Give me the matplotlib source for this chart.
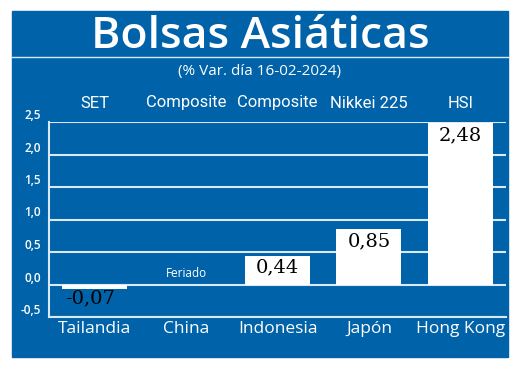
import matplotlib.pyplot as plt
import numpy as np
from matplotlib.patches import Rectangle
from matplotlib.lines import Line2D
import matplotlib.transforms as mtransforms

paises = ['Tailandia', 'China', 'Indonesia', 'Japón', 'Hong Kong']
indices = ['SET', 'Composite', 'Composite', 'Nikkei 225', 'HSI']
variacion = [-0.07, np.nan, 0.44, 0.85, 2.48]
yticks = [-0.5, 0.0, 0.5, 1.0, 1.5, 2.0, 2.5]

blue = '#0062a9'
grid_c = '#d8e9f7'
sans = ['Open Sans', 'DejaVu Sans']
narrow = ['Roboto', 'Open Sans', 'DejaVu Sans']

fig = plt.figure(figsize=(5.2, 3.83), dpi=100)
fig.patch.set_facecolor('white')

# blue panel
fig.patches.append(Rectangle((12/520, 1-357/383), 496/520, 346/383,
                             transform=fig.transFigure, color=blue, zorder=-10))
fig.lines.append(Line2D([12/520, 508/520], [1-57/383, 1-57/383],
                        transform=fig.transFigure, color=grid_c, lw=1))

fig.text(0.5, 1-37/383, 'Bolsas Asiáticas', color='white', fontsize=32,
         ha='center', va='center', family=sans, weight='semibold')
fig.text(0.5, 1-72/383, '(% Var. día 16-02-2024)', color='white', fontsize=11,
         ha='center', va='center', family=sans)

ax = fig.add_axes([49/520, 1-317/383, 457/520, 195/383])
ax.set_facecolor('none')
x = np.arange(len(paises))
vals = np.array(variacion)
ax.bar(x, np.nan_to_num(vals), width=0.71, color='white', zorder=3)

ax.set_xlim(-0.5, 4.5)
ax.set_ylim(-0.5, 2.5)
ax.set_yticks(yticks)
ax.set_yticklabels([f'{v:.1f}'.replace('.', ',') for v in yticks],
                   color='white', fontsize=8.5, family=sans, weight='semibold')
ax.set_xticks(x)
ax.set_xticklabels(paises, color='white', fontsize=12.5, family=sans)
ax.tick_params(length=0)
ax.tick_params(axis='y', pad=6)
ax.tick_params(axis='x', pad=3)
for t in ax.get_yticklabels():
    t.set_verticalalignment('bottom')
for y in yticks:
    ax.axhline(y, color=grid_c, lw=1.5, zorder=1)
for s in ['top', 'right']:
    ax.spines[s].set_visible(False)
ax.spines['left'].set_color(grid_c)
ax.spines['bottom'].set_color(grid_c)
ax.spines['left'].set_linewidth(1.5)
ax.spines['bottom'].set_linewidth(1.5)

for xi, v in zip(x, vals):
    if np.isnan(v):
        ax.text(xi, 0.17, 'Feriado', color='white', fontsize=8.5,
                ha='center', va='center', family=sans, zorder=4)
    elif v < 0:
        ax.text(xi - 0.05, v, f'{v:.2f}'.replace('.', ','), color='black',
                fontsize=14, ha='center', va='top', family='DejaVu Serif', zorder=4)
    else:
        ax.annotate(f'{v:.2f}'.replace('.', ','), (xi, v), xytext=(0, -2),
                    textcoords='offset points', color='black', fontsize=14,
                    ha='center', va='top', family='DejaVu Serif', zorder=4)

trans = mtransforms.blended_transform_factory(ax.transData, fig.transFigure)
for xi, lab in zip(x, indices):
    ax.text(xi, 1-103/383, lab, transform=trans, color='white', fontsize=12,
            ha='center', va='center', family=narrow)

fig.savefig('out.png', dpi=100, facecolor='white')
